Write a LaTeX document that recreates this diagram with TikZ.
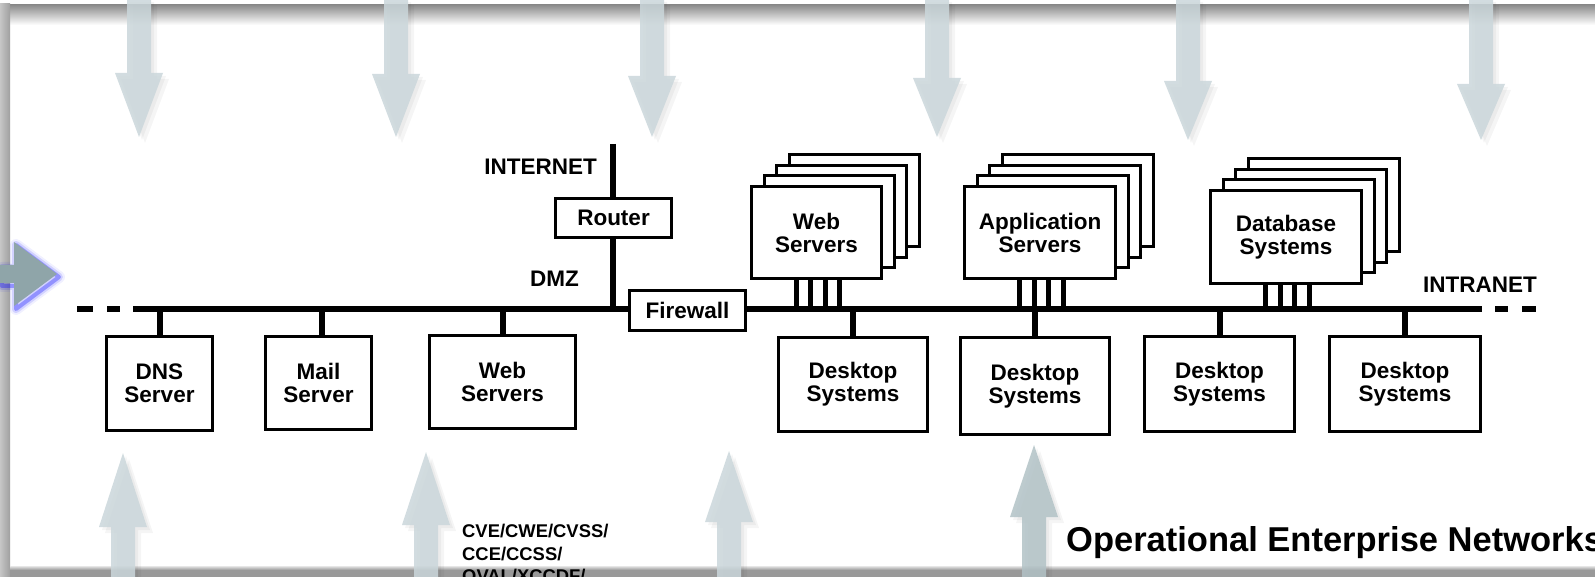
\documentclass[tikz,border=0pt]{standalone}
\usepackage{fontspec}
\setmainfont{Liberation Sans}
\newcommand\lblfont{\bfseries\fontsize{22.5}{23}\selectfont}
\definecolor{arrcol}{RGB}{203,215,219}
\definecolor{arrdark}{RGB}{178,194,198}
\definecolor{leftarr}{RGB}{143,165,169}
\definecolor{bandgray}{RGB}{140,140,140}
\definecolor{botgray}{RGB}{153,153,153}
\begin{document}
\begin{tikzpicture}[x=1pt,y=-1pt,
  box/.style={draw=black, line width=3pt, fill=white, align=center, inner sep=0pt, font=\lblfont},
  bus/.style={line width=6pt, black},
  stem/.style={line width=6pt, black},
  leg/.style={line width=5pt, black},
  lbl/.style={font=\lblfont, inner sep=0pt},
  arrfill/.style={fill=arrcol, fill opacity=0.85},
  arrshadow/.style={fill=black, fill opacity=0.04}
]
\path[use as bounding box] (0,0) rectangle (1595,577);
\begin{scope}
\clip (0,0) rectangle (1595,577);
\fill[white] (0,0) rectangle (1595,577);

% frame
\shade[top color=bandgray, bottom color=white] (10,5) rectangle (1595,25);
\shade[left color=gray!45, right color=gray!75] (0,4) rectangle (10,577);
\shade[top color=gray!20, bottom color=botgray] (10,566) rectangle (1595,570);
\fill[botgray] (10,570) rectangle (1595,577);

% bottom texts
\node[anchor=base west, inner sep=0pt, font=\bfseries\fontsize{18.4}{23}\selectfont] (cve1) at (462,537) {CVE/CWE/CVSS/};
\node[anchor=base west, inner sep=0pt, font=\bfseries\fontsize{18.4}{23}\selectfont] (cve2) at (462,560) {CCE/CCSS/};
\node[anchor=base west, inner sep=0pt, font=\bfseries\fontsize{18.4}{23}\selectfont] (cve3) at (462,582) {OVAL/XCCDF/};
\node[anchor=base west, inner sep=0pt, font=\bfseries\fontsize{34.5}{36}\selectfont] (oen) at (1066,551) {Operational Enterprise Networks};

% top arrows
\foreach \cx/\hb/\tp in {139/73/137, 396/74/137, 652/76/137, 937/78/137, 1188/81/140, 1481/84/140}{
  \foreach \s in {3,6}{
    \fill[arrshadow, shift={(\s,\s)}] (\cx-12,-1) -- (\cx-12,\hb) -- (\cx-24,\hb) -- (\cx,\tp) -- (\cx+24,\hb) -- (\cx+12,\hb) -- (\cx+12,-1) -- cycle;
  }
  \fill[arrfill] (\cx-12,-1) -- (\cx-12,\hb) -- (\cx-24,\hb) -- (\cx,\tp) -- (\cx+24,\hb) -- (\cx+12,\hb) -- (\cx+12,-1) -- cycle;
}
% bottom arrows
\foreach \cx/\hb/\tp in {123/527/453, 426/525/452, 729/522/451}{
  \foreach \s in {3,6}{
    \fill[arrshadow, shift={(\s,\s)}] (\cx-12,580) -- (\cx-12,\hb) -- (\cx-24,\hb) -- (\cx,\tp) -- (\cx+24,\hb) -- (\cx+12,\hb) -- (\cx+12,580) -- cycle;
  }
  \fill[arrfill] (\cx-12,580) -- (\cx-12,\hb) -- (\cx-24,\hb) -- (\cx,\tp) -- (\cx+24,\hb) -- (\cx+12,\hb) -- (\cx+12,580) -- cycle;
}
\foreach \s in {3,6}{
  \fill[arrshadow, shift={(\s,\s)}] (1022,580) -- (1022,517) -- (1010,517) -- (1034,445) -- (1058,517) -- (1046,517) -- (1046,580) -- cycle;
}
\fill[fill=arrdark, fill opacity=0.85] (1022,580) -- (1022,517) -- (1010,517) -- (1034,445) -- (1058,517) -- (1046,517) -- (1046,580) -- cycle;

% left arrow with blue glow
\begin{scope}[shift={(2,3)}]
\draw[blue, line width=12pt, opacity=0.06, line join=round] (0,265) -- (14,265) -- (14,242) -- (57,274) -- (14,306) -- (14,283) -- (0,283) -- cycle;
\draw[blue, line width=8pt, opacity=0.12, line join=round] (0,265) -- (14,265) -- (14,242) -- (57,274) -- (14,306) -- (14,283) -- (0,283) -- cycle;
\draw[blue, line width=4pt, opacity=0.3, line join=round] (0,265) -- (14,265) -- (14,242) -- (57,274) -- (14,306) -- (14,283) -- (0,283) -- cycle;
\end{scope}
\fill[leftarr] (-2,265) -- (14,265) -- (14,242) -- (57,274) -- (14,306) -- (14,283) -- (-2,283) -- cycle;

% bus
\coordinate (busL) at (133,309);
\coordinate (busR) at (1482,309);
\draw[bus] (busL) -- (busR);
\coordinate (dl1) at (77,309); \coordinate (dl2) at (93,309);
\coordinate (dl3) at (107,309); \coordinate (dl4) at (120,309);
\coordinate (dr1) at (1495,309); \coordinate (dr2) at (1508,309);
\coordinate (dr3) at (1522,309); \coordinate (dr4) at (1536,309);
\draw[bus] (dl1) -- (dl2); \draw[bus] (dl3) -- (dl4);
\draw[bus] (dr1) -- (dr2); \draw[bus] (dr3) -- (dr4);

% labels
\node[lbl, anchor=base east] (inet) at (597,175) {INTERNET};
\node[lbl, anchor=base west] (dmz) at (530,287) {DMZ};
\node[lbl, anchor=base west] (intra) at (1423,292) {INTRANET};

% router
\coordinate (itop) at (612.5,144);
\node[box, minimum width=116pt, minimum height=39pt] (router) at (613.5,218) {Router};
\draw[stem] (itop) -- (itop |- router.north);
\draw[stem] (router.south -| itop) -- (itop |- busL);

% firewall
\node[box, minimum width=116pt, minimum height=40pt] (fw) at (687.5,310.5) {Firewall};

% DMZ boxes
\node[box, minimum width=106pt, minimum height=94pt] (dns) at (159.5,383.5) {DNS\\Server};
\node[box, minimum width=106pt, minimum height=93pt] (mail) at (318.5,383) {Mail\\Server};
\node[box, minimum width=146pt, minimum height=93pt] (webd) at (502.5,382) {Web\\Servers};
\draw[stem] (dns.north) -- (dns.north |- busL);
\draw[stem] ([xshift=3.5pt]mail.north) -- ([xshift=3.5pt]mail.north |- busL);
\draw[stem] (webd.north) -- (webd.north |- busL);

% desktop boxes
\node[box, minimum width=149pt, minimum height=94pt] (d1) at (853,384.5) {Desktop\\Systems};
\node[box, minimum width=149pt, minimum height=97pt] (d2) at (1035,386) {Desktop\\Systems};
\node[box, minimum width=150pt, minimum height=95pt] (d3) at (1219.5,384) {Desktop\\Systems};
\node[box, minimum width=151pt, minimum height=95pt] (d4) at (1405,384) {Desktop\\Systems};
\foreach \n in {d1,d2,d3,d4}{
  \draw[stem] (\n.north) -- (\n.north |- busL);
}

% server stacks
\foreach \nm/\cx/\cy/\w/\h/\txt in {ws/816.5/232.5/130/92/{Web\\Servers}, as/1040/232.5/151/92/{Application\\Servers}, db/1286/237/151/93/{Database\\Systems}}{
  \node[box, minimum width=\w pt, minimum height=\h pt] (\nm3) at (\cx+37.5,\cy-31.5) {};
  \node[box, minimum width=\w pt, minimum height=\h pt] (\nm2) at (\cx+25,\cy-21) {};
  \node[box, minimum width=\w pt, minimum height=\h pt] (\nm1) at (\cx+12.5,\cy-10.5) {};
  \node[box, minimum width=\w pt, minimum height=\h pt] (\nm) at (\cx,\cy) {\txt};
  \foreach \dx in {-20.5,-6,8.5,23}{
    \draw[leg] ([xshift=\dx pt]\nm.south) -- ([xshift=\dx pt]\nm.south |- busL);
  }
}
\end{scope}
\end{tikzpicture}
\end{document}
